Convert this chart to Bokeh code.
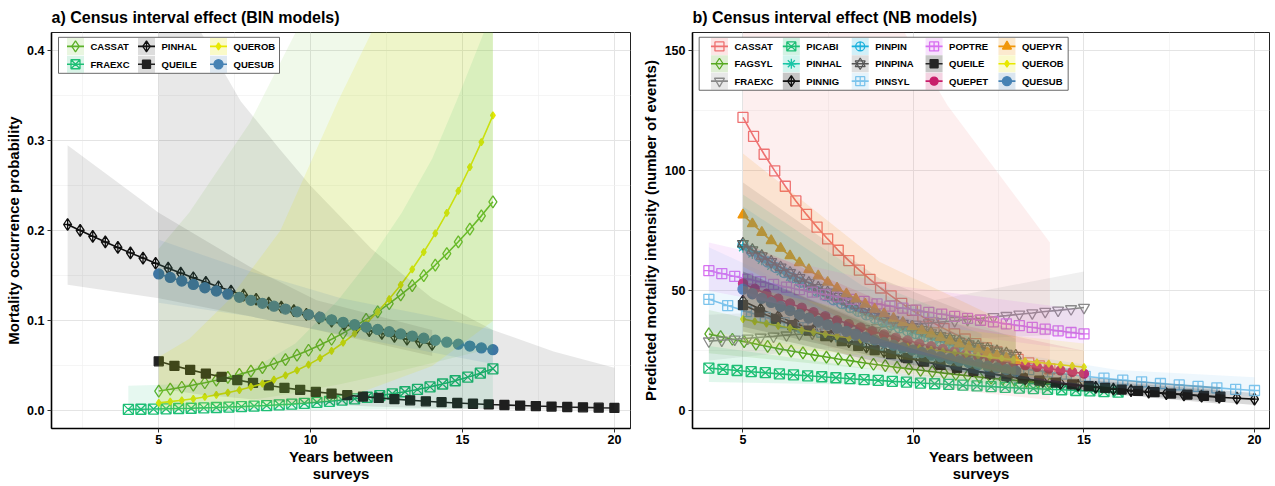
import numpy as np
from bokeh.plotting import figure
from bokeh.models import Range1d, FixedTicker, NumeralTickFormatter
from bokeh.core.properties import value
from bokeh.layouts import row
from bokeh.embed import file_html
from bokeh.resources import INLINE

# ---------------- Panel a data (BIN models) ----------------
A_SPECIES = ["CASSAT", "FRAEXC", "PINHAL", "QUEILE", "QUEROB", "QUESUB"]
A_SPAN = {"CASSAT": (5, 16), "FRAEXC": (4, 16), "PINHAL": (2, 14),
          "QUEILE": (5, 20), "QUEROB": (5, 16), "QUESUB": (5, 16)}
A_CASSAT = [0.0221, 0.0241, 0.0263, 0.0287, 0.0313, 0.0341, 0.0372, 0.0405, 0.0442, 0.0481,
            0.0524, 0.0570, 0.0620, 0.0674, 0.0733, 0.0796, 0.0864, 0.0937, 0.1016, 0.1100,
            0.1191, 0.1288, 0.1392, 0.1502, 0.1620, 0.1746, 0.1878, 0.2018, 0.2166, 0.2322]
A_FRAEXC = [0.0017, 0.0019, 0.0021, 0.0024, 0.0027, 0.0030, 0.0034, 0.0038, 0.0043, 0.0048,
            0.0054, 0.0060, 0.0068, 0.0076, 0.0085, 0.0096, 0.0107, 0.0121, 0.0135, 0.0152,
            0.0170, 0.0190, 0.0213, 0.0239, 0.0267, 0.0299, 0.0335, 0.0375, 0.0419, 0.0468]
A_PINHAL = [0.2070, 0.2004, 0.1939, 0.1876, 0.1815, 0.1755, 0.1697, 0.1640, 0.1585, 0.1531,
            0.1479, 0.1428, 0.1379, 0.1331, 0.1285, 0.1240, 0.1196, 0.1154, 0.1113, 0.1073,
            0.1034, 0.0997, 0.0961, 0.0926, 0.0892, 0.0860, 0.0828, 0.0797, 0.0768, 0.0740]
A_QUEILE = [0.0551, 0.0501, 0.0456, 0.0415, 0.0378, 0.0343, 0.0312, 0.0283, 0.0257, 0.0234,
            0.0212, 0.0193, 0.0175, 0.0159, 0.0144, 0.0131, 0.0118, 0.0107, 0.0097, 0.0088,
            0.0080, 0.0072, 0.0066, 0.0060, 0.0054, 0.0049, 0.0044, 0.0040, 0.0036, 0.0033]
A_QUEROB = [0.0090, 0.0103, 0.0118, 0.0135, 0.0155, 0.0178, 0.0203, 0.0232, 0.0266, 0.0303,
            0.0347, 0.0396, 0.0451, 0.0514, 0.0586, 0.0666, 0.0757, 0.0859, 0.0973, 0.1100,
            0.1242, 0.1399, 0.1573, 0.1764, 0.1972, 0.2199, 0.2443, 0.2706, 0.2985, 0.3281]
A_QUESUB = [0.1521, 0.1482, 0.1443, 0.1405, 0.1368, 0.1332, 0.1296, 0.1262, 0.1228, 0.1195,
            0.1163, 0.1131, 0.1100, 0.1070, 0.1041, 0.1012, 0.0984, 0.0957, 0.0931, 0.0905,
            0.0880, 0.0855, 0.0831, 0.0808, 0.0785, 0.0763, 0.0741, 0.0720, 0.0700, 0.0680]
A_VALUES = {"CASSAT": A_CASSAT, "FRAEXC": A_FRAEXC, "PINHAL": A_PINHAL,
            "QUEILE": A_QUEILE, "QUEROB": A_QUEROB, "QUESUB": A_QUESUB}
# confidence bands: (x, lower, upper)
A_BAND_CASSAT = ([5, 6, 7, 8, 9.5, 11, 13, 16], [0.003, 0.005, 0.008, 0.012, 0.02, 0.03, 0.045, 0.07],
                 [0.18, 0.22, 0.27, 0.32, 0.42, 0.55, 0.7, 0.9])
A_BAND_FRAEXC = ([4, 6, 8, 9.5, 10.9, 12, 13, 14, 14.8, 15.7, 16],
                 [0.0, 0.0, 0.0, 0.0005, 0.001, 0.0015, 0.002, 0.002, 0.0025, 0.003, 0.003],
                 [0.028, 0.03, 0.045, 0.075, 0.123, 0.17, 0.22, 0.28, 0.344, 0.42, 0.45])
A_BAND_PINHAL = ([2, 5, 8, 10.2, 14], [0.14, 0.125, 0.105, 0.09, 0.061],
                 [0.295, 0.22, 0.16, 0.123, 0.09])
A_BAND_QUEILE = ([5, 6.4, 7.7, 9, 10, 12, 14, 16, 18, 20],
                 [0.025, 0.018, 0.014, 0.01, 0.008, 0.005, 0.003, 0.002, 0.0015, 0.001],
                 [0.7, 0.42, 0.344, 0.29, 0.25, 0.18, 0.125, 0.09, 0.066, 0.048])
A_BAND_QUEROB = ([5, 6, 7.3, 9, 10.9, 12, 14, 16], [0.0005, 0.001, 0.002, 0.005, 0.012, 0.025, 0.05, 0.1],
                 [0.06, 0.08, 0.123, 0.2, 0.344, 0.42, 0.6, 0.8])
A_BAND_QUESUB = ([5, 8, 11, 14, 16], [0.12, 0.105, 0.085, 0.065, 0.052],
                 [0.19, 0.155, 0.125, 0.105, 0.09])
A_BANDS = {"CASSAT": A_BAND_CASSAT, "FRAEXC": A_BAND_FRAEXC, "PINHAL": A_BAND_PINHAL,
           "QUEILE": A_BAND_QUEILE, "QUEROB": A_BAND_QUEROB, "QUESUB": A_BAND_QUESUB}

# ---------------- Panel b data (NB models) ----------------
B_SPECIES = ["CASSAT", "FAGSYL", "FRAEXC", "PICABI", "PINHAL", "PINNIG", "PINPIN", "PINPINA",
             "PINSYL", "POPTRE", "QUEILE", "QUEPET", "QUEPYR", "QUEROB", "QUESUB"]
B_SPAN = {"CASSAT": (5, 14), "FAGSYL": (4, 14), "FRAEXC": (4, 15), "PICABI": (4, 16),
          "PINHAL": (5, 13), "PINNIG": (5, 20), "PINPIN": (5, 12), "PINPINA": (5, 13),
          "PINSYL": (4, 20), "POPTRE": (4, 15), "QUEILE": (5, 19), "QUEPET": (5, 15),
          "QUEPYR": (5, 13), "QUEROB": (5, 15), "QUESUB": (5, 13)}
B_CASSAT = [122.0, 114.1, 106.7, 99.8, 93.4, 87.3, 81.7, 76.4, 71.5, 66.8, 62.5, 58.5, 54.7, 51.1, 47.8,
            44.7, 41.8, 39.1, 36.6, 34.2, 32.0, 29.9, 28.0, 26.2, 24.5, 22.9, 21.4, 20.0, 18.7, 17.5]
B_FAGSYL = [32.0, 30.9, 29.8, 28.8, 27.8, 26.8, 25.8, 24.9, 24.1, 23.2, 22.4, 21.6, 20.9, 20.1, 19.4,
            18.8, 18.1, 17.5, 16.9, 16.3, 15.7, 15.2, 14.6, 14.1, 13.6, 13.2, 12.7, 12.3, 11.8, 11.4]
B_FRAEXC = [29.0, 29.4, 29.8, 30.2, 30.6, 31.0, 31.5, 31.9, 32.3, 32.8, 33.2, 33.7, 34.1, 34.6, 35.1,
            35.5, 36.0, 36.5, 37.0, 37.5, 38.0, 38.5, 39.1, 39.6, 40.2, 40.7, 41.3, 41.8, 42.4, 43.0]
B_PICABI = [17.8, 17.3, 16.8, 16.3, 15.9, 15.4, 15.0, 14.6, 14.2, 13.8, 13.4, 13.0, 12.7, 12.3, 12.0,
            11.6, 11.3, 11.0, 10.7, 10.4, 10.1, 9.8, 9.5, 9.3, 9.0, 8.8, 8.5, 8.3, 8.0, 7.8]
B_PINHAL = [68.0, 65.4, 62.8, 60.3, 58.0, 55.7, 53.6, 51.5, 49.5, 47.5, 45.7, 43.9, 42.2, 40.6, 39.0,
            37.5, 36.0, 34.6, 33.3, 32.0, 30.7, 29.5, 28.4, 27.3, 26.2, 25.2, 24.2, 23.3, 22.4, 21.5]
B_PINNIG = [45.7, 42.3, 39.2, 36.3, 33.6, 31.1, 28.8, 26.6, 24.7, 22.8, 21.1, 19.6, 18.1, 16.8, 15.5,
            14.4, 13.3, 12.3, 11.4, 10.6, 9.8, 9.1, 8.4, 7.8, 7.2, 6.7, 6.2, 5.7, 5.3, 4.9]
B_PINPIN = [69.0, 66.5, 64.2, 61.9, 59.6, 57.5, 55.4, 53.5, 51.5, 49.7, 47.9, 46.2, 44.6, 43.0, 41.4,
            39.9, 38.5, 37.1, 35.8, 34.5, 33.3, 32.1, 30.9, 29.8, 28.8, 27.7, 26.7, 25.8, 24.9, 24.0]
B_PINPINA = [69.5, 66.9, 64.4, 62.0, 59.7, 57.4, 55.3, 53.2, 51.2, 49.3, 47.5, 45.7, 44.0, 42.3, 40.7,
             39.2, 37.8, 36.3, 35.0, 33.7, 32.4, 31.2, 30.0, 28.9, 27.8, 26.8, 25.8, 24.8, 23.9, 23.0]
B_PINSYL = [46.4, 43.8, 41.3, 38.9, 36.7, 34.6, 32.7, 30.8, 29.1, 27.4, 25.9, 24.4, 23.0, 21.7, 20.5,
            19.3, 18.2, 17.2, 16.2, 15.3, 14.4, 13.6, 12.8, 12.1, 11.4, 10.8, 10.2, 9.6, 9.0, 8.5]
B_POPTRE = [58.3, 57.1, 55.9, 54.8, 53.7, 52.6, 51.5, 50.4, 49.4, 48.4, 47.4, 46.4, 45.5, 44.5, 43.6,
            42.7, 41.9, 41.0, 40.2, 39.3, 38.5, 37.7, 37.0, 36.2, 35.5, 34.7, 34.0, 33.3, 32.6, 32.0]
B_QUEILE = [44.0, 41.1, 38.3, 35.7, 33.4, 31.1, 29.0, 27.1, 25.3, 23.6, 22.0, 20.5, 19.2, 17.9, 16.7,
            15.6, 14.5, 13.5, 12.6, 11.8, 11.0, 10.3, 9.6, 8.9, 8.3, 7.8, 7.2, 6.8, 6.3, 5.9]
B_QUEPET = [53.0, 50.8, 48.7, 46.7, 44.7, 42.9, 41.1, 39.4, 37.7, 36.2, 34.7, 33.2, 31.8, 30.5, 29.3,
            28.0, 26.9, 25.8, 24.7, 23.7, 22.7, 21.7, 20.8, 20.0, 19.1, 18.3, 17.6, 16.9, 16.2, 15.5]
B_QUEPYR = [81.5, 77.8, 74.2, 70.8, 67.6, 64.5, 61.6, 58.7, 56.1, 53.5, 51.1, 48.7, 46.5, 44.4, 42.3,
            40.4, 38.5, 36.8, 35.1, 33.5, 32.0, 30.5, 29.1, 27.8, 26.5, 25.3, 24.1, 23.0, 22.0, 21.0]
B_QUEROB = [38.2, 37.2, 36.3, 35.4, 34.5, 33.6, 32.8, 31.9, 31.1, 30.4, 29.6, 28.9, 28.1, 27.4, 26.7,
            26.1, 25.4, 24.8, 24.2, 23.6, 23.0, 22.4, 21.8, 21.3, 20.7, 20.2, 19.7, 19.2, 18.7, 18.2]
B_QUESUB = [50.6, 48.7, 46.8, 45.1, 43.4, 41.7, 40.1, 38.6, 37.2, 35.8, 34.4, 33.1, 31.8, 30.6, 29.5,
            28.4, 27.3, 26.3, 25.3, 24.3, 23.4, 22.5, 21.7, 20.8, 20.1, 19.3, 18.6, 17.9, 17.2, 16.5]
B_VALUES = {"CASSAT": B_CASSAT, "FAGSYL": B_FAGSYL, "FRAEXC": B_FRAEXC, "PICABI": B_PICABI,
            "PINHAL": B_PINHAL, "PINNIG": B_PINNIG, "PINPIN": B_PINPIN, "PINPINA": B_PINPINA,
            "PINSYL": B_PINSYL, "POPTRE": B_POPTRE, "QUEILE": B_QUEILE, "QUEPET": B_QUEPET,
            "QUEPYR": B_QUEPYR, "QUEROB": B_QUEROB, "QUESUB": B_QUESUB}
B_BANDS = {
    "CASSAT": ([5, 7, 9, 11, 14], [50, 30, 17, 9, 4.5], [300, 230, 175, 127, 70]),
    "FAGSYL": ([4, 9, 14], [24, 17, 8], [42, 26, 16]),
    "FRAEXC": ([4, 9.5, 15], [21, 29, 32], [40, 43, 58]),
    "PICABI": ([4, 10, 16], [12, 10.5, 5.5], [27, 15, 11]),
    "PINHAL": ([5, 9, 13], [52, 34, 15], [90, 52, 30]),
    "PINNIG": ([5, 10, 15, 20], [35, 19, 8.5, 2.5], [58, 29, 13, 7.5]),
    "PINPIN": ([5, 8.5, 12], [55, 35, 17], [85, 52, 32]),
    "PINPINA": ([5, 9, 13], [50, 30, 14], [95, 55, 33]),
    "PINSYL": ([4, 8, 12, 16, 20], [33, 24, 15, 9.5, 6], [68, 42, 26, 17, 14]),
    "POPTRE": ([4, 9.5, 15], [50, 35, 25], [70, 52, 42]),
    "QUEILE": ([5, 10, 15, 19], [33, 17, 8, 3], [58, 28, 14, 10]),
    "QUEPET": ([5, 10, 15], [40, 24, 9], [70, 40, 25]),
    "QUEPYR": ([5, 9, 13], [60, 30, 13], [107, 62, 35]),
    "QUEROB": ([5, 10, 15], [28, 21, 11], [52, 36, 28]),
    "QUESUB": ([5, 9, 13], [38, 25, 11], [70, 42, 25]),
}

X_TICKS = [5, 10, 15, 20]
A_Y_TICKS = [0.0, 0.1, 0.2, 0.3, 0.4]
B_Y_TICKS = [0, 50, 100, 150]

# ---------------- styles ----------------
FONT = "Liberation Sans"
A_STYLE = {
    "CASSAT": dict(color="#5cb12a", marker="diamond", size=12, fill=False, band="#6cc02e", alpha=0.10),
    "FRAEXC": dict(color="#1fbf76", marker="square_x", size=10, fill=False, band="#1fbf76", alpha=0.11),
    "PINHAL": dict(color="#111111", marker="diamond_cross", size=12, fill=False, band="#000000", alpha=0.09),
    "QUEILE": dict(color="#222222", marker="square", size=9, fill=True, band="#000000", alpha=0.09),
    "QUEROB": dict(color="#e8e800", marker="diamond", size=7, fill=True, band="#e6e600", alpha=0.14),
    "QUESUB": dict(color="#4682b4", marker="circle", size=10, fill=True, band="#4682b4", alpha=0.12),
}
B_STYLE = {
    "CASSAT": dict(color="#ee7070", marker="square", size=10, fill=False, band="#f08080"),
    "FAGSYL": dict(color="#56a820", marker="diamond", size=12, fill=False, band="#56a820"),
    "FRAEXC": dict(color="#8a8a8a", marker="inverted_triangle", size=11, fill=False, band="#8a8a8a"),
    "PICABI": dict(color="#1fbf76", marker="square_x", size=10, fill=False, band="#1fbf76"),
    "PINHAL": dict(color="#19c6a6", marker="asterisk", size=11, fill=False, band="#19c6a6"),
    "PINNIG": dict(color="#111111", marker="diamond_cross", size=12, fill=False, band="#000000", alpha=0.15),
    "PINPIN": dict(color="#1ab0dc", marker="circle_cross", size=10, fill=False, band="#1ab0dc"),
    "PINPINA": dict(color="#555555", marker="star6", size=11, fill=False, band="#555555"),
    "PINSYL": dict(color="#7cc4ec", marker="square_cross", size=10, fill=False, band="#7cc4ec"),
    "POPTRE": dict(color="#d870f0", marker="square_cross", size=10, fill=False, band="#d870f0"),
    "QUEILE": dict(color="#262626", marker="square", size=9, fill=True, band="#000000", alpha=0.15),
    "QUEPET": dict(color="#c81d6a", marker="circle", size=9, fill=True, band="#c81d6a"),
    "QUEPYR": dict(color="#f0960a", marker="triangle", size=10, fill=True, band="#f0960a"),
    "QUEROB": dict(color="#e8e800", marker="diamond", size=7, fill=True, band="#e6e600"),
    "QUESUB": dict(color="#4682b4", marker="circle", size=10, fill=True, band="#4682b4"),
}

FIG_H = 484
BORDER_TOP = 31
BORDER_BOTTOM = 54


class Panel:
    def __init__(self, width, x_range, y_range, min_left, min_right, title, ylabel,
                 yticks, yminor, yfmt, ylabel_standoff):
        self.xr, self.yr = x_range, y_range
        self.fw = width - min_left - min_right
        self.fh = FIG_H - BORDER_TOP - BORDER_BOTTOM
        p = figure(width=width, height=FIG_H, output_backend="svg", toolbar_location=None,
                   x_range=Range1d(*x_range), y_range=Range1d(*y_range),
                   min_border_left=min_left, min_border_right=min_right,
                   min_border_top=BORDER_TOP, min_border_bottom=BORDER_BOTTOM, title=title)
        p.title.text_font = FONT
        p.title.text_font_size = "16px"
        p.title.text_font_style = "bold"
        p.title.text_color = "black"
        p.title.align = "left"
        p.title.standoff = 13
        p.title.offset = 0
        p.background_fill_color = "white"
        p.border_fill_color = "white"
        p.outline_line_color = "#222222"
        p.outline_line_width = 1
        p.xaxis.ticker = FixedTicker(ticks=X_TICKS, minor_ticks=[2.5, 7.5, 12.5, 17.5])
        p.yaxis.ticker = FixedTicker(ticks=yticks, minor_ticks=yminor)
        if yfmt:
            p.yaxis.formatter = NumeralTickFormatter(format=yfmt)
        for ax in (p.xaxis, p.yaxis):
            ax.axis_line_color = "black"
            ax.axis_line_width = 1.6
            ax.major_tick_line_color = "#333333"
            ax.major_tick_line_width = 1
            ax.major_tick_out = 4
            ax.major_tick_in = 0
            ax.minor_tick_line_color = None
            ax.major_label_text_font = FONT
            ax.major_label_text_font_size = "12.5px"
            ax.major_label_text_font_style = "bold"
            ax.major_label_text_color = "black"
            ax.axis_label_text_font = FONT
            ax.axis_label_text_font_size = "15px"
            ax.axis_label_text_font_style = "bold"
            ax.axis_label_text_color = "black"
        p.yaxis.major_label_standoff = 3
        p.yaxis.axis_label_standoff = ylabel_standoff
        p.xaxis.major_label_standoff = 2
        p.xaxis.axis_label_standoff = 1
        p.xaxis.axis_label_text_line_height = 1.0
        p.xaxis.axis_label = "Years between\nsurveys"
        p.yaxis.axis_label = ylabel
        for g in (p.xgrid, p.ygrid):
            g.grid_line_color = "#e4e4e4"
            g.grid_line_width = 1
            g.minor_grid_line_color = "#f0f0f0"
            g.minor_grid_line_width = 0.7
        self.p = p

    def at(self, fx, fy):
        """frame-relative pixel offset (from top-left) -> data coordinates (legend placement)"""
        x = self.xr[0] + fx / self.fw * (self.xr[1] - self.xr[0])
        y = self.yr[1] - fy / self.fh * (self.yr[1] - self.yr[0])
        return x, y


def draw_marker(p, x, y, st, size=None):
    s = size or st["size"]
    if st["marker"] == "star6":
        for mk in ("triangle", "inverted_triangle"):
            p.scatter(x, y, marker=mk, size=s, line_color=st["color"], fill_color=None, line_width=1.2)
    else:
        p.scatter(x, y, marker=st["marker"], size=s, line_color=st["color"],
                  fill_color=st["color"] if st["fill"] else None, line_width=1.3)


def draw_panel(panel, species, spans, values, bands, styles, alpha_default, leg_box, leg_cols, leg_rows):
    p = panel.p
    for sp in species:
        st = styles[sp]
        y = values[sp]
        x0, x1 = spans[sp]
        x = np.linspace(x0, x1, len(y))
        p.line(x, y, line_color=st["color"], line_width=1.6)
        draw_marker(p, x, y, st)
    for sp in species:
        st = styles[sp]
        bx, lo, hi = bands[sp]
        p.varea(x=bx, y1=lo, y2=hi, fill_color=st["band"], fill_alpha=st.get("alpha", alpha_default))
    # legend (drawn as glyphs, positioned in frame pixels)
    bl, bt, bw, bh = leg_box
    cx, cy = panel.at(bl + bw / 2, bt + bh / 2)
    p.rect(cx, cy, width=bw, height=bh, width_units="screen", height_units="screen",
           fill_color="white", line_color="#444444", line_width=0.8)
    nrows = len(leg_rows)
    for i, sp in enumerate(species):
        st = styles[sp]
        col, r = divmod(i, nrows)
        kx, ky = panel.at(leg_cols[col], leg_rows[r])
        tx, _ = panel.at(leg_cols[col] + 15, leg_rows[r])
        a = st.get("alpha", alpha_default)
        p.rect(kx, ky, width=17, height=17, width_units="screen", height_units="screen",
               fill_color=st["band"], fill_alpha=min(1.0, a * 1.5), line_color=None)
        p.rect(kx, ky, width=17, height=1.6, width_units="screen", height_units="screen",
               fill_color=st["color"], line_color=None)
        draw_marker(p, [kx], [ky], st, size=max(7, st["size"] - 1))
        p.text([tx], [ky], text=[sp], text_font=value(FONT), text_font_size="9.5px",
               text_font_style="bold", text_baseline="middle", text_align="left", text_color="black")


pa = Panel(638, (1.47, 20.53), (-0.0195, 0.4202), 51, 8,
           "a) Census interval effect (BIN models)", "Mortality occurrence probability",
           A_Y_TICKS, [0.05, 0.15, 0.25, 0.35], "0.0", 2)
draw_panel(pa, A_SPECIES, A_SPAN, A_VALUES, A_BANDS, A_STYLE, 0.12,
           (7, 5, 221, 36), [24, 95, 167], [14, 32])

pb = Panel(637, (3.52, 20.44), (-7.3, 157.3), 53, 6,
           "b) Census interval effect (NB models)", "Predicted mortality intensity (number of events)",
           B_Y_TICKS, [25, 75, 125], None, 3)
draw_panel(pb, B_SPECIES, B_SPAN, B_VALUES, B_BANDS, B_STYLE, 0.13,
           (7, 5, 369, 53), [27, 99, 168, 242, 315], [14, 31.5, 49])

layout = row(pa.p, pb.p, spacing=0)
open("out.html", "w").write(file_html(layout, INLINE))
